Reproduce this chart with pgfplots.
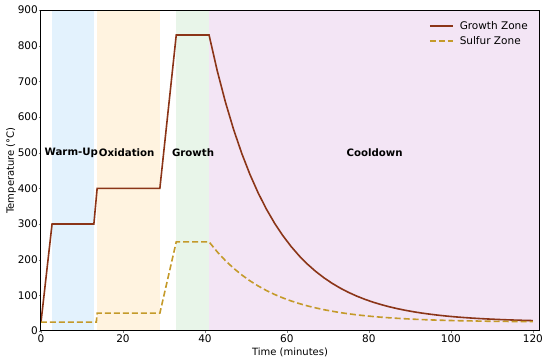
\documentclass[border=0pt]{standalone}
\usepackage{fontspec}
\setmainfont{DejaVu Sans}
\usepackage{pgfplots}
\pgfplotsset{compat=1.18}
\definecolor{cwarm}{HTML}{E3F2FD}
\definecolor{coxid}{HTML}{FFF3E0}
\definecolor{cgrow}{HTML}{E8F5E9}
\definecolor{ccool}{HTML}{F3E5F5}
\definecolor{cgz}{HTML}{8B3518}
\definecolor{csz}{HTML}{C49A2A}
\begin{document}
\begin{tikzpicture}
\begin{axis}[
  scale only axis, width=498pt, height=321pt,
  xmin=0, xmax=121.5, ymin=0, ymax=900,
  xtick={0,20,40,60,80,100,120},
  ytick={0,100,200,300,400,500,600,700,800,900},
  /pgf/number format/assume math mode=true,
  tick label style={font=\fontsize{10.5}{12}\selectfont},
  tick align=outside, major tick length=2pt,
  xtick pos=bottom, ytick pos=left,
  yticklabel style={inner sep=1pt},
  xticklabel style={inner sep=2pt},
  axis line style={line width=1pt},
  axis on top,
  xlabel={Time (minutes)}, ylabel={Temperature (°C)},
  label style={font=\fontsize{10}{12}\selectfont},
  xlabel style={at={(axis description cs:0.5,-0.0654)}, anchor=center},
  ylabel style={at={(axis description cs:-0.0602,0.5)}, anchor=center, rotate=0},
  legend style={draw=none, fill=none, at={(0.988,0.978)}, anchor=north east,
    font=\fontsize{10.5}{12}\selectfont, row sep=1.5pt},
  legend cell align=left,
  legend image code/.code={\draw[#1, line width=1.7pt] (0pt,0pt) -- (23pt,0pt); \path (27pt,0pt);},
]
\addplot[draw=none, fill=cwarm, forget plot] coordinates {(2.7,900) (12.9,900)} \closedcycle;
\addplot[draw=none, fill=coxid, forget plot] coordinates {(13.7,900) (29,900)} \closedcycle;
\addplot[draw=none, fill=cgrow, forget plot] coordinates {(33,900) (41,900)} \closedcycle;
\addplot[draw=none, fill=ccool, forget plot] coordinates {(41,900) (121.5,900)} \closedcycle;

\addplot[color=cgz, line width=1.6pt] coordinates {
(0,25) (2.7,300) (12.9,300) (13.7,400) (29,400) (33,830) (41,830)
(43,729.5) (45,641.6) (47,564.6) (49,497.3) (51,438.3) (53,386.7) (55,341.6)
(57,302.0) (59,267.5) (61,237.2) (63,210.7) (65,187.5) (67,167.2) (69,149.5)
(71,133.9) (73,120.3) (75,108.4) (77,98.0) (79,88.9) (81,80.9) (83,74.0)
(85,67.8) (87,62.5) (89,57.8) (91,53.7) (93,50.1) (95,47.0) (97,44.2)
(99,41.8) (101,39.7) (103,37.9) (105,36.3) (107,34.9) (109,33.7) (111,32.6)
(113,31.6) (115,30.8) (117,30.1) (119,29.4) (120,29.2)};
\addlegendentry{Growth Zone}

\addplot[color=csz, line width=1.6pt, dash pattern=on 6pt off 3pt] coordinates {
(0,25) (13.5,25) (13.7,50) (29,50) (33,250) (41,250)
(43,221.9) (45,197.3) (47,175.8) (49,157.0) (51,140.5) (53,126.1) (55,113.5)
(57,102.4) (59,92.8) (61,84.3) (63,76.9) (65,70.4) (67,64.8) (69,59.8)
(71,55.5) (73,51.6) (75,48.3) (77,45.4) (79,42.9) (81,40.6) (83,38.7)
(85,37.0) (87,35.5) (89,34.2) (91,33.0) (93,32.0) (95,31.1) (97,30.4)
(99,29.7) (101,29.1) (103,28.6) (105,28.2) (107,27.8) (109,27.4) (111,27.1)
(113,26.9) (115,26.6) (117,26.4) (119,26.2) (120,26.2)};
\addlegendentry{Sulfur Zone}

\node[font=\bfseries\fontsize{10.2}{12}\selectfont] at (axis cs:7.4,500) {Warm-Up};
\node[font=\bfseries\fontsize{10.2}{12}\selectfont] at (axis cs:20.9,500) {Oxidation};
\node[font=\bfseries\fontsize{10.2}{12}\selectfont] at (axis cs:37.1,500) {Growth};
\node[font=\bfseries\fontsize{10.2}{12}\selectfont] at (axis cs:81.4,500) {Cooldown};
\end{axis}
\pgfresetboundingbox
\useasboundingbox (-41pt,-33pt) rectangle (509pt,331pt);
\end{tikzpicture}
\end{document}
